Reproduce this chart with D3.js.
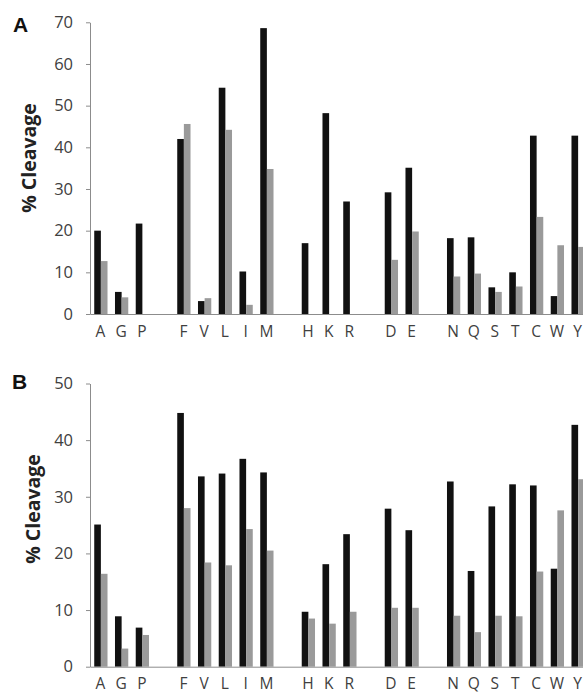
<!DOCTYPE html>
<html><head><meta charset="utf-8">
<script src="https://cdn.jsdelivr.net/npm/d3@7"></script>
<style>body{margin:0;background:#fff}svg{display:block}</style>
</head><body><svg id="c" width="583" height="695"></svg>
<script>
// ---- data ----
const groups = [["A","G","P"],["F","V","L","I","M"],["H","K","R"],["D","E"],["N","Q","S","T","C","W","Y"]];
const categories = ["A","G","P","F","V","L","I","M","H","K","R","D","E","N","Q","S","T","C","W","Y"];
const panelA_black = [20.0, 5.3, 21.7, 42.0, 3.1, 54.3, 10.2, 68.6, 17.0, 48.2, 27.0, 29.2, 35.1, 18.2, 18.4, 6.4, 10.0, 42.8, 4.3, 42.8];
const panelA_gray  = [12.7, 4.0,  0.0, 45.6, 3.8, 44.2,  2.2, 34.8,  0.0,  0.0,  0.0, 13.0, 19.8,  9.0,  9.7, 5.3,  6.6, 23.3, 16.5, 16.1];
const panelB_black = [25.1, 8.9, 6.9, 44.8, 33.6, 34.1, 36.7, 34.3, 9.7, 18.1, 23.4, 27.9, 24.1, 32.7, 16.9, 28.3, 32.2, 32.0, 17.3, 42.7];
const panelB_gray  = [16.4, 3.2, 5.6, 28.0, 18.4, 17.9, 24.3, 20.5, 8.5,  7.6,  9.7, 10.4, 10.4,  9.0,  6.1,  9.0,  8.9, 16.8, 27.6, 33.1];
const yTicksA = [0,10,20,30,40,50,60,70];
const yTicksB = [0,10,20,30,40,50];
const panelLetters = ["A","B"];
const yTitle = "% Cleavage";

// ---- layout ----
const svg = d3.select("#c");
svg.append("rect").attr("width",583).attr("height",695).attr("fill","#fff");

// slots with an empty slot between groups
const slots = [];
groups.forEach((g,i)=>{ if(i>0) slots.push("gap"+i); g.forEach(c=>slots.push(c)); });

const x = d3.scaleBand().domain(slots).range([90.5, 588.5]).padding(0);
const barW = x.bandwidth()*0.32;

const axisColor = "#8c8c8c";
const textColor = "#404040";
const FONT = "'Open Sans', sans-serif";

const panels = [
  {letter: panelLetters[0], black: panelA_black, gray: panelA_gray, ticks: yTicksA, y0: 314, y1: 22.3, letterPos:[20.5,24], titlePos:[28,158]},
  {letter: panelLetters[1], black: panelB_black, gray: panelB_gray, ticks: yTicksB, y0: 666.7, y1: 383.5, letterPos:[19.5,381], titlePos:[32,509]}
];

panels.forEach(p=>{
  const yMax = d3.max(p.ticks);
  const y = d3.scaleLinear().domain([0,yMax]).range([p.y0,p.y1]);
  const g = svg.append("g");

  // bars
  const rows = categories.map((c,i)=>({c, b:p.black[i], g:p.gray[i]}));
  g.selectAll("rect.blk").data(rows).join("rect").attr("class","blk")
    .attr("x", d=>x(d.c)+x.bandwidth()/2-barW)
    .attr("width", barW)
    .attr("y", d=>y(d.b)).attr("height", d=>y(0)-y(d.b))
    .attr("fill","#111");
  g.selectAll("rect.gry").data(rows.filter(d=>d.g>0)).join("rect").attr("class","gry")
    .attr("x", d=>x(d.c)+x.bandwidth()/2)
    .attr("width", barW)
    .attr("y", d=>y(d.g)).attr("height", d=>y(0)-y(d.g))
    .attr("fill","#9a9a9a");

  // y axis
  const ya = g.append("g").attr("transform",`translate(${x.range()[0]-0.5},0)`)
    .call(d3.axisLeft(y).tickValues(p.ticks).tickSize(4).tickSizeOuter(0).tickPadding(13));
  ya.select(".domain").attr("stroke",axisColor);
  ya.selectAll(".tick line").attr("stroke",axisColor);
  ya.selectAll(".tick text").attr("fill",textColor).attr("font-family",FONT).attr("font-size",16.5);

  // x axis
  const xa = g.append("g").attr("transform",`translate(-0.5,${y(0)})`)
    .call(d3.axisBottom(x).tickValues(categories).tickSize(0).tickSizeOuter(0).tickPadding(11.5));
  xa.select(".domain").attr("stroke",axisColor);
  xa.selectAll(".tick text").attr("fill",textColor).attr("font-family",FONT).attr("font-size",15.5);

  // panel letter
  svg.append("text").attr("x",p.letterPos[0]).attr("y",p.letterPos[1])
    .attr("text-anchor","middle").attr("dominant-baseline","central")
    .attr("font-family","'Liberation Sans', Arial, sans-serif").attr("font-weight","bold")
    .attr("font-size",21).attr("fill","#111").text(p.letter);

  // y title
  svg.append("text")
    .attr("transform",`translate(${p.titlePos[0]},${p.titlePos[1]}) rotate(-90)`)
    .attr("text-anchor","middle").attr("dominant-baseline","central")
    .attr("font-family",FONT).attr("font-weight","bold")
    .attr("font-size",19.5).attr("fill","#222").text(yTitle);
});
</script>
</body></html>
